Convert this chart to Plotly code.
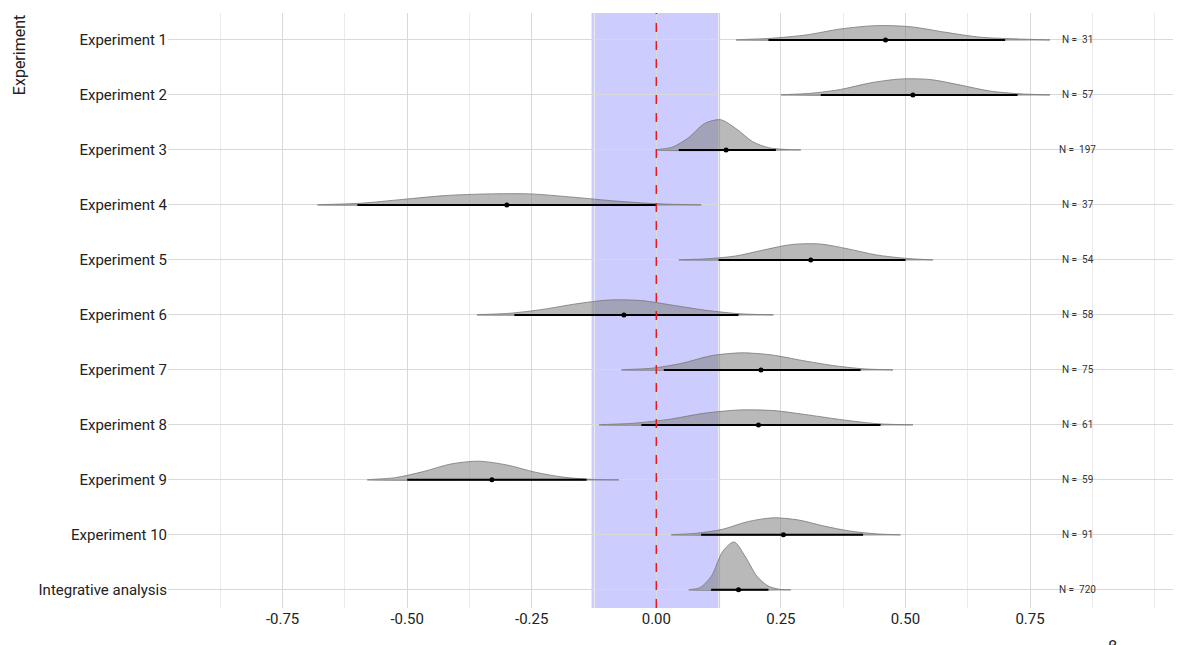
import plotly.graph_objects as go
import numpy as np

labels = ["Experiment 1", "Experiment 2", "Experiment 3", "Experiment 4", "Experiment 5",
          "Experiment 6", "Experiment 7", "Experiment 8", "Experiment 9", "Experiment 10",
          "Integrative analysis"]
n_obs = [31, 57, 197, 37, 54, 58, 75, 61, 59, 91, 720]
means = [0.46, 0.515, 0.14, -0.30, 0.31, -0.065, 0.21, 0.205, -0.33, 0.255, 0.165]
ci_lo = [0.225, 0.33, 0.045, -0.60, 0.125, -0.285, 0.015, -0.03, -0.50, 0.09, 0.11]
ci_hi = [0.70, 0.725, 0.24, 0.0, 0.50, 0.165, 0.41, 0.45, -0.14, 0.415, 0.225]
dens_lo = [0.16, 0.25, 0.0, -0.68, 0.045, -0.36, -0.07, -0.115, -0.58, 0.03, 0.065]
dens_hi = [0.79, 0.79, 0.29, 0.09, 0.555, 0.235, 0.475, 0.515, -0.075, 0.49, 0.27]
# ridge heights (in row units) sampled evenly between dens_lo and dens_hi
dens_h = [
    [0, 0.03, 0.09, 0.2, 0.26, 0.24, 0.14, 0.05, 0.02, 0],
    [0, 0.03, 0.1, 0.22, 0.29, 0.28, 0.18, 0.07, 0.02, 0],
    [0, 0.05, 0.22, 0.48, 0.55, 0.38, 0.15, 0.04, 0.01, 0],
    [0, 0.03, 0.1, 0.17, 0.2, 0.2, 0.14, 0.07, 0.02, 0],
    [0, 0.02, 0.07, 0.18, 0.28, 0.29, 0.2, 0.09, 0.03, 0],
    [0, 0.03, 0.1, 0.2, 0.27, 0.26, 0.17, 0.08, 0.02, 0],
    [0, 0.03, 0.12, 0.26, 0.31, 0.27, 0.17, 0.08, 0.02, 0],
    [0, 0.03, 0.1, 0.21, 0.27, 0.26, 0.18, 0.09, 0.02, 0],
    [0, 0.04, 0.15, 0.29, 0.34, 0.27, 0.14, 0.05, 0.01, 0],
    [0, 0.03, 0.1, 0.24, 0.31, 0.27, 0.16, 0.07, 0.02, 0],
    [0, 0.04, 0.25, 0.7, 0.87, 0.6, 0.25, 0.07, 0.01, 0],
]
rope = [-0.13, 0.128]

fig = go.Figure()
fig.add_vrect(x0=rope[0], x1=rope[1], fillcolor="rgba(0,0,255,0.2)", line_width=0, layer="below")

nrow = len(labels)
for i, lab in enumerate(labels):
    base = nrow - 1 - i
    xs = np.linspace(dens_lo[i], dens_hi[i], len(dens_h[i]))
    ys = base + np.array(dens_h[i])
    fig.add_trace(go.Scatter(x=list(xs) + [xs[-1], xs[0]], y=list(ys) + [base, base],
                             mode="lines", line=dict(color="rgba(120,120,120,0.8)", width=1, shape="spline", smoothing=0.8),
                             fill="toself", fillcolor="rgba(128,128,128,0.55)", showlegend=False, hoverinfo="skip"))
    fig.add_trace(go.Scatter(x=[ci_lo[i], ci_hi[i]], y=[base, base], mode="lines",
                             line=dict(color="black", width=2), showlegend=False))
    fig.add_trace(go.Scatter(x=[means[i]], y=[base], mode="markers",
                             marker=dict(color="black", size=5), showlegend=False))
    fig.add_annotation(x=0.846, y=base, text=f"N =  {n_obs[i]}", showarrow=False,
                       font=dict(size=10, color="#333"))

fig.add_vline(x=0, line=dict(color="#e41a1c", width=1.5, dash="dash"))

fig.update_layout(
    width=1181, height=645, plot_bgcolor="white", paper_bgcolor="white",
    margin=dict(l=160, r=6, t=5, b=45),
    font=dict(family="Roboto", size=15, color="#222"),
    xaxis=dict(range=[-0.98, 1.057], tickvals=[-0.75, -0.5, -0.25, 0, 0.25, 0.5, 0.75],
               ticktext=["-0.75", "-0.50", "-0.25", "0.00", "0.25", "0.50", "0.75"],
               showgrid=True, gridcolor="#d9d9d9", zeroline=False, automargin=False,
               minor=dict(dtick=0.125, tick0=0.125, showgrid=True, gridcolor="#ebebeb")),
    yaxis=dict(range=[-0.33, 10.49], tickvals=list(range(nrow - 1, -1, -1)), ticktext=labels,
               showgrid=True, gridcolor="#d9d9d9", zeroline=False, automargin=False),
)
fig.add_annotation(xref="paper", yref="paper", x=-0.158, y=1.0, text="Experiment", textangle=-90,
                   showarrow=False, xanchor="left", yanchor="top", font=dict(size=16))
fig.add_annotation(xref="paper", yref="paper", x=1.0, y=-0.045, xanchor="right", yanchor="top",
                   text="β<sub>RWA<sub>Positive EC</sub></sub>", showarrow=False, font=dict(size=16))
fig.write_html("out.html")
